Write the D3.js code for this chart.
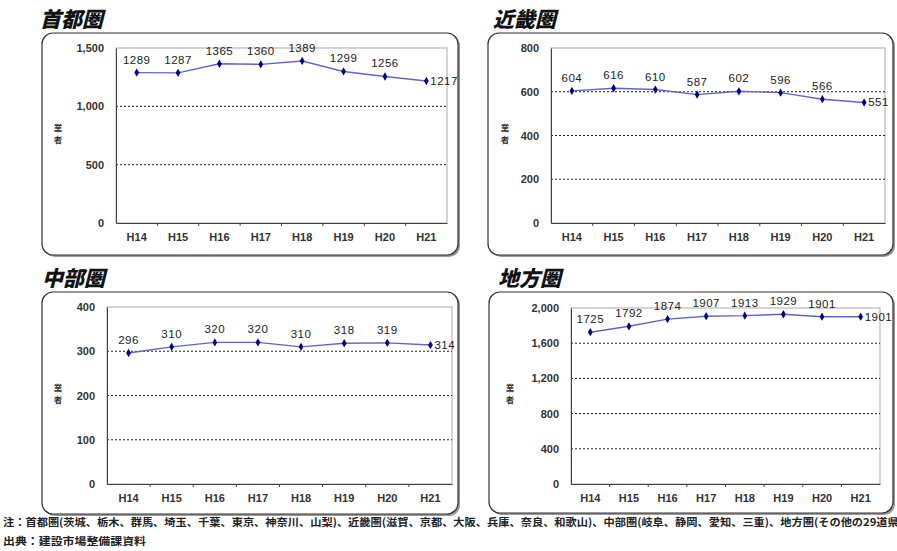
<!DOCTYPE html>
<html>
<head>
<meta charset="utf-8">
<script src="https://cdn.jsdelivr.net/npm/d3@7"></script>
<style>
  body { margin: 0; background: #fff; }
  svg { display: block; }
</style>
</head>
<body>
<svg id="chart" width="897" height="551"></svg>
<script>
// years on the x axis (same for all four panels)
const years = ["H14", "H15", "H16", "H17", "H18", "H19", "H20", "H21"];

// number of firms per region
const shutoken = [1289, 1287, 1365, 1360, 1389, 1299, 1256, 1217];
const kinki = [604, 616, 610, 587, 602, 596, 566, 551];
const chubu = [296, 310, 320, 320, 310, 318, 319, 314];
const chiho = [1725, 1792, 1874, 1907, 1913, 1929, 1901, 1901];

// y tick values per panel
const ticksShutoken = [0, 500, 1000, 1500];
const ticksKinki = [0, 200, 400, 600, 800];
const ticksChubu = [0, 100, 200, 300, 400];
const ticksChiho = [0, 400, 800, 1200, 1600, 2000];

const titles = ["首都圏", "近畿圏", "中部圏", "地方圏"];
const yLabel = "業者";
const note1 = "注：首都圏(茨城、栃木、群馬、埼玉、千葉、東京、神奈川、山梨)、近畿圏(滋賀、京都、大阪、兵庫、奈良、和歌山)、中部圏(岐阜、静岡、愛知、三重)、地方圏(その他の29道県)";
const note2 = "出典：建設市場整備課資料";

const svg = d3.select("#chart");
const fmt = d3.format(",");

// layout of each panel: frame box + plot area
const panels = [
    { title: titles[0], data: shutoken, ticks: ticksShutoken, fmtTicks: true,
      box: { x: 42, y: 33, w: 416, h: 222 }, plot: { x: 116, y: 48, w: 331, h: 175 }, titleX: 40, titleY: 27, labX: 58 },
    { title: titles[1], data: kinki, ticks: ticksKinki, fmtTicks: false,
      box: { x: 488, y: 33, w: 405, h: 222 }, plot: { x: 551, y: 48, w: 334, h: 175 }, titleX: 493, titleY: 27, labX: 505 },
    { title: titles[2], data: chubu, ticks: ticksChubu, fmtTicks: false,
      box: { x: 42, y: 292, w: 416, h: 222 }, plot: { x: 107, y: 307, w: 345, h: 177 }, titleX: 42, titleY: 286, labX: 58 },
    { title: titles[3], data: chiho, ticks: ticksChiho, fmtTicks: true,
      box: { x: 489, y: 292, w: 404, h: 221 }, plot: { x: 571, y: 308, w: 309, h: 176 }, titleX: 498, titleY: 286, labX: 510 }
];

panels.forEach(p => {
    const g = svg.append("g");

    // title
    g.append("text").attr("x", p.titleX).attr("y", p.titleY)
        .style("font-family", "'Noto Sans CJK JP'").style("font-weight", 900).style("font-style", "italic")
        .style("font-size", "21px").attr("fill", "#111")
        .text(p.title);

    // frame with shadow
    g.append("rect").attr("x", p.box.x + 2).attr("y", p.box.y + 2).attr("width", p.box.w).attr("height", p.box.h)
        .attr("rx", 11).attr("fill", "#999");
    g.append("rect").attr("x", p.box.x).attr("y", p.box.y).attr("width", p.box.w).attr("height", p.box.h)
        .attr("rx", 11).attr("fill", "#fff").attr("stroke", "#333").attr("stroke-width", 1.2);

    const x = d3.scaleBand().domain(years).range([p.plot.x, p.plot.x + p.plot.w]);
    const y = d3.scaleLinear().domain([0, d3.max(p.ticks)]).range([p.plot.y + p.plot.h, p.plot.y]);

    // plot frame (top/right light)
    g.append("rect").attr("x", p.plot.x).attr("y", p.plot.y).attr("width", p.plot.w).attr("height", p.plot.h)
        .attr("fill", "none").attr("stroke", "#aaa").attr("stroke-width", 1);

    // dashed gridlines
    g.selectAll(".grid").data(p.ticks.filter(t => t > 0 && t < d3.max(p.ticks))).enter().append("line")
        .attr("x1", p.plot.x).attr("x2", p.plot.x + p.plot.w)
        .attr("y1", d => y(d)).attr("y2", d => y(d))
        .attr("stroke", "#222").attr("stroke-width", 1).attr("stroke-dasharray", "2,2");

    // y axis
    const yAxis = d3.axisLeft(y).tickValues(p.ticks).tickSize(0).tickPadding(12)
        .tickFormat(d => p.fmtTicks ? fmt(d) : d);
    const ya = g.append("g").attr("transform", `translate(${p.plot.x},0)`).call(yAxis);
    ya.select(".domain").attr("stroke", "#444");
    ya.selectAll("text").style("font-family", "'Liberation Sans', Arial").style("font-size", "11px")
        .style("font-weight", "bold").attr("fill", "#333");

    // x axis with ticks between categories
    const xAxis = d3.axisBottom(x).tickSize(0).tickPadding(10);
    const xa = g.append("g").attr("transform", `translate(0,${p.plot.y + p.plot.h})`).call(xAxis);
    xa.select(".domain").attr("stroke", "#444");
    xa.selectAll("text").style("font-family", "'Liberation Sans', Arial").style("font-size", "11px")
        .style("font-weight", "bold").attr("fill", "#333");
    g.selectAll(".xtick").data(years.slice(1)).enter().append("line")
        .attr("x1", d => x(d)).attr("x2", d => x(d))
        .attr("y1", p.plot.y + p.plot.h).attr("y2", p.plot.y + p.plot.h + 3)
        .attr("stroke", "#444");

    // y label, one character per row
    g.selectAll(".ylab").data(Array.from(yLabel)).enter().append("text")
        .attr("x", p.labX).attr("y", (d, i) => y(d3.max(p.ticks) / 2) - 5 + i * 12)
        .attr("text-anchor", "middle")
        .style("font-family", "'Noto Sans CJK JP'")
        .style("font-size", "8.5px").style("font-weight", "bold").attr("fill", "#333")
        .text(d => d);

    // line
    const line = d3.line().x((d, i) => x(years[i]) + x.bandwidth() / 2).y(d => y(d));
    g.append("path").datum(p.data).attr("d", line)
        .attr("fill", "none").attr("stroke", "#6464c8").attr("stroke-width", 1.4);

    // diamond markers
    g.selectAll(".pt").data(p.data).enter().append("path")
        .attr("d", d3.symbol(d3.symbolDiamond, 20))
        .attr("transform", (d, i) => `translate(${x(years[i]) + x.bandwidth() / 2},${y(d)})`)
        .attr("fill", "#000080");

    // value labels
    const last = p.data.length - 1;
    g.selectAll(".lbl").data(p.data).enter().append("text")
        .attr("x", (d, i) => x(years[i]) + x.bandwidth() / 2 + (i === last ? 4 : 0))
        .attr("y", (d, i) => y(d) + (i === last ? 4 : -9))
        .attr("text-anchor", (d, i) => i === last ? "start" : "middle")
        .style("font-family", "'Liberation Sans', Arial").style("font-size", "11.5px")
        .style("letter-spacing", "0.5px")
        .attr("fill", "#222")
        .text(d => d);
});

// footnotes
svg.append("text").attr("x", 3).attr("y", 526)
    .attr("textLength", 900).attr("lengthAdjust", "spacingAndGlyphs")
    .style("font-family", "'Noto Sans CJK JP'").style("font-size", "10.5px").style("font-weight", "bold")
    .attr("fill", "#222").text(note1);
svg.append("text").attr("x", 3).attr("y", 545)
    .attr("textLength", 143).attr("lengthAdjust", "spacingAndGlyphs")
    .style("font-family", "'Noto Sans CJK JP'").style("font-size", "10.5px").style("font-weight", "bold")
    .attr("fill", "#222").text(note2);
</script>
</body>
</html>
